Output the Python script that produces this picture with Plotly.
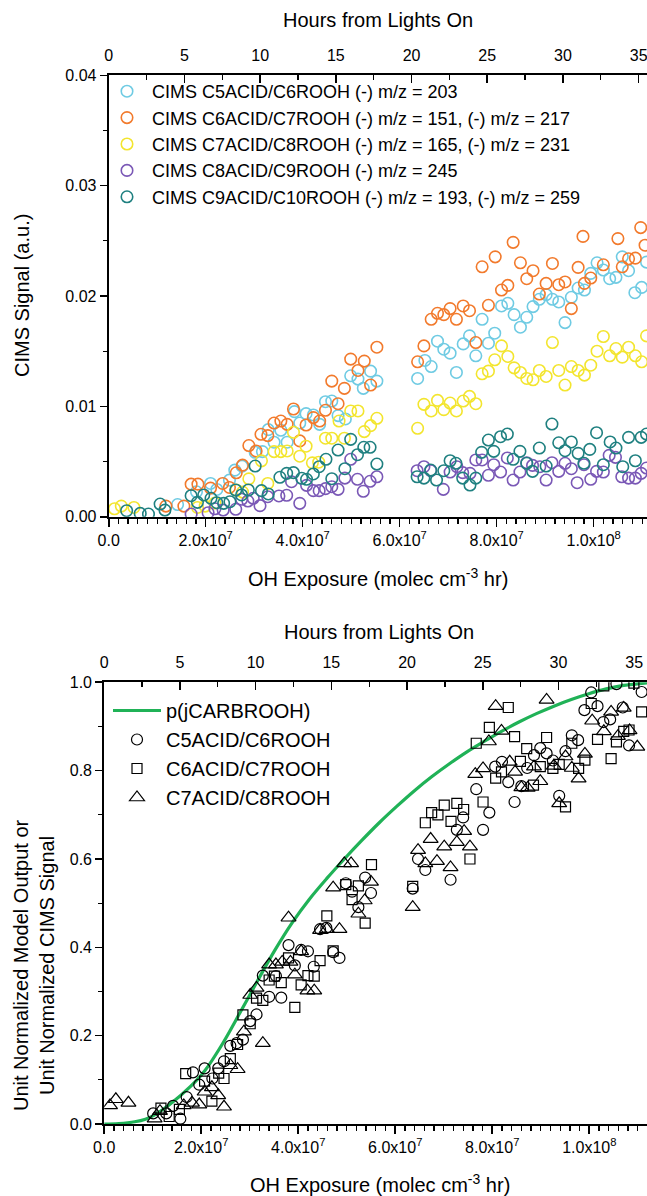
import plotly.graph_objects as go

# ---------------- TOP PANEL DATA (OH exposure in units of 1e7 molec cm^-3 hr) ----------------
c5_oh = [1.42, 1.81, 2.10, 2.23, 2.49, 2.60, 2.75, 3.02, 3.17, 3.29, 3.41, 3.55, 3.68, 3.83, 3.94, 4.07, 4.22, 4.35,
         4.47, 4.60, 4.73, 4.88, 4.99, 5.14, 5.25, 5.40, 5.53,
         6.37, 6.52, 6.65, 6.78, 6.91, 7.04, 7.17, 7.31, 7.44, 7.57, 7.70, 7.83, 7.96, 8.10, 8.23, 8.36, 8.49, 8.62,
         8.75, 8.88, 9.02, 9.15, 9.28, 9.41, 9.54, 9.68, 9.81, 9.94, 10.07, 10.20, 10.33, 10.46, 10.59, 10.72,
         10.85, 10.99, 11.09]
c5_sig = [0.00110, 0.00226, 0.00301, 0.00247, 0.00331, 0.00422, 0.00458, 0.00584, 0.00590, 0.00789, 0.00675,
          0.00783, 0.00675, 0.00952, 0.00849, 0.00934, 0.00922, 0.00837, 0.01042, 0.01048, 0.00916, 0.00886,
          0.01277, 0.01247, 0.01163, 0.01319, 0.01229,
          0.01253, 0.01416, 0.01361, 0.01590, 0.01518, 0.01482, 0.01307, 0.01566, 0.01639, 0.01458, 0.01789,
          0.01572, 0.01663, 0.01910, 0.01934, 0.01831, 0.01717, 0.01807, 0.01904, 0.01970, 0.02012, 0.01970,
          0.01946, 0.01759, 0.01988, 0.02072, 0.02054, 0.02205, 0.02301, 0.02235, 0.02157, 0.02169, 0.02355,
          0.02229, 0.02030, 0.02078, 0.02307]

c6_oh = [1.18, 1.55, 1.70, 1.84, 2.10, 2.35, 2.49, 2.63, 2.76, 2.89, 3.04, 3.14, 3.28, 3.41, 3.55, 3.68, 3.81, 3.94,
         4.07, 4.22, 4.35, 4.47, 4.60, 4.73, 4.86, 4.99, 5.14, 5.27, 5.40, 5.53,
         6.37, 6.50, 6.65, 6.78, 6.91, 7.04, 7.17, 7.31, 7.44, 7.57, 7.70, 7.83, 7.97, 8.10, 8.23, 8.34, 8.49,
         8.62, 8.75, 8.88, 9.02, 9.15, 9.28, 9.41, 9.54, 9.68, 9.78, 9.81, 9.94, 10.20, 10.50, 10.59, 10.72,
         10.86, 10.97, 11.06]
c6_sig = [0.00096, 0.00096, 0.00295, 0.00295, 0.00259, 0.00301, 0.00265, 0.00398, 0.00467, 0.00645, 0.00596,
          0.00747, 0.00735, 0.00849, 0.00867, 0.00837, 0.00976, 0.00687, 0.00831, 0.00898, 0.00867, 0.00964,
          0.01229, 0.01024, 0.01163, 0.01428, 0.01325, 0.01410, 0.01193, 0.01536,
          0.01404, 0.01548, 0.01789, 0.01843, 0.01831, 0.01886, 0.01789, 0.01910, 0.01867, 0.01578, 0.02265,
          0.01916, 0.02355, 0.02054, 0.02096, 0.02486, 0.02301, 0.02157, 0.02229, 0.02018, 0.02114, 0.02295,
          0.02102, 0.02127, 0.01886, 0.02259, 0.02540, 0.02114, 0.02163, 0.02283, 0.02520, 0.02265, 0.02337,
          0.02343, 0.02620, 0.02460]

c7_oh = [0.12, 0.26, 0.52, 1.83, 1.99, 2.19, 2.63, 2.76, 2.89, 3.15, 3.28, 3.41, 3.55, 3.68, 3.81, 3.94, 4.07,
         4.20, 4.33, 4.47, 4.60, 4.75, 4.86, 4.99, 5.14, 5.27, 5.40, 5.53,
         6.37, 6.50, 6.65, 6.78, 6.91, 7.04, 7.17, 7.31, 7.44, 7.57, 7.70, 7.83, 7.96, 8.10, 8.23, 8.36, 8.49,
         8.62, 8.75, 8.88, 9.02, 9.15, 9.28, 9.41, 9.54, 9.68, 9.81, 9.94, 10.07, 10.20, 10.33, 10.46, 10.59,
         10.72, 10.86, 10.99, 11.09]
c7_sig = [0.00072, 0.00096, 0.00084, 0.00084, 0.00096, 0.00124, 0.00241, 0.00223, 0.00343, 0.00506, 0.00301,
          0.00590, 0.00590, 0.00596, 0.00765, 0.00548, 0.00639, 0.00488, 0.00494, 0.00711, 0.00711, 0.00867,
          0.00711, 0.00958, 0.00958, 0.00771, 0.00825, 0.00892,
          0.00801, 0.01018, 0.00958, 0.01054, 0.00970, 0.01030, 0.00958, 0.01048, 0.01090, 0.01024, 0.01295,
          0.01319, 0.01422, 0.01548, 0.01452, 0.01349, 0.01307, 0.01253, 0.01241, 0.01325, 0.01271, 0.01578,
          0.01325, 0.01193, 0.01361, 0.01325, 0.01283, 0.01373, 0.01500, 0.01633, 0.01458, 0.01524, 0.01446,
          0.01536, 0.01458, 0.01404, 0.01639]

c8_oh = [1.70, 2.05, 2.19, 2.36, 2.62, 2.74, 2.87, 2.98, 3.12, 3.28, 3.51, 3.67, 3.77, 3.94, 4.08, 4.22, 4.34,
         4.47, 4.60, 4.73, 4.87, 4.99, 5.13, 5.25, 5.39, 5.53,
         6.36, 6.50, 6.64, 6.90, 7.04, 7.18, 7.30, 7.45, 7.57, 7.70, 7.83, 7.94, 8.08, 8.22, 8.34, 8.48, 8.62,
         8.74, 8.89, 9.02, 9.14, 9.28, 9.41, 9.54, 9.66, 9.80, 9.94, 10.06, 10.20, 10.32, 10.45, 10.58, 10.72,
         10.86, 10.98, 11.09]
c8_sig = [0.00024, 0.00036, 0.00072, 0.00060, 0.00067, 0.00158, 0.00142, 0.00167, 0.00100, 0.00181, 0.00188,
          0.00194, 0.00317, 0.00121, 0.00284, 0.00236, 0.00236, 0.00254, 0.00272, 0.00248, 0.00350, 0.00520,
          0.00339, 0.00230, 0.00321, 0.00362,
          0.00417, 0.00453, 0.00417, 0.00248, 0.00405, 0.00453, 0.00399, 0.00393, 0.00514, 0.00514, 0.00375,
          0.00471, 0.00405, 0.00532, 0.00332, 0.00405, 0.00489, 0.00465, 0.00453, 0.00332, 0.00489, 0.00411,
          0.00484, 0.00435, 0.00308, 0.00471, 0.00339, 0.00411, 0.00405, 0.00556, 0.00538, 0.00362, 0.00350,
          0.00350, 0.00393, 0.00441]

c9_oh = [0.37, 0.65, 0.82, 1.06, 1.16, 1.70, 1.83, 1.96, 2.11, 2.23, 2.37, 2.50, 2.62, 2.74, 2.88, 3.02, 3.15,
         3.29, 3.53, 3.67, 3.81, 3.98, 4.08, 4.22, 4.34, 4.48, 4.60, 4.73, 4.87, 4.99, 5.13, 5.26, 5.39, 5.53,
         6.36, 6.50, 6.64, 6.76, 6.91, 7.04, 7.16, 7.30, 7.45, 7.57, 7.69, 7.83, 7.94, 8.08, 8.22, 8.34, 8.48,
         8.62, 8.74, 8.88, 9.02, 9.14, 9.28, 9.41, 9.54, 9.68, 9.80, 9.92, 10.06, 10.20, 10.34, 10.46, 10.60,
         10.72, 10.86, 10.98, 11.09]
c9_sig = [0.00054, 0.00030, 0.00024, 0.00115, 0.00060, 0.00190, 0.00130, 0.00197, 0.00167, 0.00127, 0.00121,
          0.00136, 0.00242, 0.00197, 0.00242, 0.00459, 0.00236, 0.00206, 0.00357, 0.00393, 0.00399, 0.00348,
          0.00339, 0.00387, 0.00453, 0.00520, 0.00344, 0.00604, 0.00435, 0.00701, 0.00562, 0.00629, 0.00629,
          0.00477,
          0.00362, 0.00350, 0.00423, 0.00332, 0.00417, 0.00507, 0.00484, 0.00350, 0.00287, 0.00350, 0.00583,
          0.00695, 0.00592, 0.00725, 0.00749, 0.00520, 0.00592, 0.00484, 0.00411, 0.00622, 0.00459, 0.00840,
          0.00670, 0.00598, 0.00677, 0.00574, 0.00484, 0.00610, 0.00761, 0.00471, 0.00677, 0.00622, 0.00453,
          0.00719, 0.00507, 0.00719, 0.00749]

# ---------------- BOTTOM PANEL DATA ----------------
model_oh = [0, 0.3, 0.63, 0.85, 1.06, 1.35, 1.78, 2.07, 2.43, 2.79, 3.15, 3.51, 3.87, 4.23, 4.59, 4.95, 5.31,
            5.67, 6.03, 6.39, 6.75, 7.11, 7.47, 7.83, 8.19, 8.55, 8.91, 9.27, 9.63, 9.99, 10.35, 10.71, 11.2]
model_val = [0, 0.001, 0.005, 0.011, 0.022, 0.044, 0.085, 0.12, 0.18, 0.25, 0.322, 0.392, 0.455, 0.509, 0.556,
             0.600, 0.642, 0.682, 0.719, 0.754, 0.786, 0.815, 0.842, 0.866, 0.889, 0.910, 0.929, 0.946, 0.961,
             0.974, 0.985, 0.993, 0.999]

n5_oh = [1.01, 1.28, 1.42, 1.57, 1.70, 1.83, 1.96, 2.07, 2.23, 2.35, 2.47, 2.60, 2.73, 2.86, 3.01, 3.14, 3.27,
         3.40, 3.54, 3.65, 3.80, 3.93, 4.06, 4.20, 4.32, 4.45, 4.58, 4.72, 4.85, 4.98, 5.11, 5.24, 5.38, 5.50,
         6.36, 6.47, 6.62, 7.14, 7.27, 7.40, 7.67, 7.81, 7.94, 8.06, 8.20, 8.33, 8.46, 8.60, 8.72, 8.86, 8.99,
         9.12, 9.25, 9.38, 9.51, 9.64, 9.77, 9.90, 10.04, 10.17, 10.29, 10.43, 10.56, 10.69, 10.82, 11.08]
n5_val = [0.024, 0.024, 0.041, 0.012, 0.061, 0.117, 0.089, 0.126, 0.103, 0.126, 0.142, 0.177, 0.183, 0.191,
          0.233, 0.248, 0.336, 0.288, 0.335, 0.286, 0.405, 0.359, 0.394, 0.391, 0.356, 0.441, 0.444, 0.389,
          0.376, 0.545, 0.526, 0.491, 0.558, 0.523, 0.533, 0.600, 0.575, 0.553, 0.666, 0.694, 0.758, 0.666,
          0.705, 0.809, 0.820, 0.774, 0.729, 0.765, 0.806, 0.835, 0.851, 0.839, 0.823, 0.743, 0.844, 0.880,
          0.869, 0.937, 0.977, 0.946, 0.910, 0.916, 0.996, 0.943, 0.857, 0.978]

n6_oh = [1.17, 1.34, 1.55, 1.68, 2.07, 2.22, 2.36, 2.47, 2.60, 2.75, 2.86, 3.01, 3.14, 3.27, 3.40, 3.51, 3.65,
         3.80, 3.93, 4.06, 4.20, 4.33, 4.45, 4.59, 4.72, 4.98, 5.11, 5.24, 5.38, 5.51, 6.36, 6.62, 6.75, 6.88,
         7.01, 7.15, 7.27, 7.41, 7.54, 7.67, 7.81, 7.94, 8.07, 8.19, 8.33, 8.46, 8.58, 8.71, 8.85, 8.99, 9.12,
         9.25, 9.38, 9.51, 9.64, 9.78, 9.91, 10.04, 10.17, 10.30, 10.45, 10.56, 10.71, 10.82, 10.92, 11.08]
n6_val = [0.036, 0.017, 0.033, 0.114, 0.097, 0.052, 0.115, 0.103, 0.148, 0.180, 0.247, 0.227, 0.285, 0.280,
          0.326, 0.335, 0.320, 0.376, 0.264, 0.315, 0.336, 0.335, 0.370, 0.471, 0.392, 0.542, 0.508, 0.539,
          0.455, 0.587, 0.538, 0.682, 0.705, 0.700, 0.722, 0.685, 0.726, 0.712, 0.600, 0.862, 0.729, 0.898,
          0.783, 0.797, 0.943, 0.877, 0.821, 0.850, 0.767, 0.809, 0.875, 0.805, 0.814, 0.718, 0.862, 0.805,
          0.824, 0.952, 0.871, 0.992, 0.827, 0.865, 0.889, 0.892, 0.998, 0.933]

n7_oh = [0.12, 0.24, 0.50, 1.04, 1.15, 1.64, 1.81, 1.96, 2.07, 2.22, 2.35, 2.47, 2.60, 2.75, 2.88, 3.01, 3.14,
         3.27, 3.40, 3.54, 3.67, 3.80, 3.84, 3.93, 4.06, 4.19, 4.33, 4.45, 4.59, 4.72, 4.85, 4.95, 5.09, 5.24,
         5.37, 5.50, 6.36, 6.47, 6.62, 6.73, 6.86, 7.01, 7.14, 7.27, 7.42, 7.54, 7.65, 7.81, 7.93, 8.07, 8.19,
         8.36, 8.47, 8.60, 8.73, 8.86, 8.99, 9.12, 9.27, 9.38, 9.51, 9.64, 9.78, 9.91, 10.06, 10.30, 10.45,
         10.59, 10.71, 10.83, 10.99]
n7_val = [0.042, 0.056, 0.048, 0.012, 0.029, 0.042, 0.048, 0.044, 0.073, 0.083, 0.065, 0.039, 0.133, 0.124,
          0.209, 0.292, 0.308, 0.183, 0.361, 0.361, 0.367, 0.467, 0.367, 0.338, 0.391, 0.302, 0.302, 0.439,
          0.441, 0.535, 0.441, 0.590, 0.590, 0.476, 0.506, 0.548, 0.491, 0.620, 0.590, 0.645, 0.595, 0.628,
          0.581, 0.638, 0.663, 0.628, 0.792, 0.805, 0.866, 0.946, 0.890, 0.820, 0.797, 0.762, 0.761, 0.809,
          0.776, 0.960, 0.811, 0.726, 0.832, 0.806, 0.782, 0.838, 0.913, 0.889, 0.933, 0.878, 0.942, 0.891,
          0.854]

oh_tickvals = [0, 2, 4, 6, 8, 10]
oh_ticktext = ["0.0", "2.0x10<sup>7</sup>", "4.0x10<sup>7</sup>", "6.0x10<sup>7</sup>",
               "8.0x10<sup>7</sup>", "1.0x10<sup>8</sup>"]
hours_ticks = [0, 5, 10, 15, 20, 25, 30, 35]

FONT = "Arial, Liberation Sans, sans-serif"
top_series = [
    ("CIMS C5ACID/C6ROOH (-) m/z = 203", c5_oh, c5_sig, "#6fcbe3"),
    ("CIMS C6ACID/C7ROOH (-) m/z = 151, (-) m/z = 217", c6_oh, c6_sig, "#f27a2c"),
    ("CIMS C7ACID/C8ROOH (-) m/z = 165, (-) m/z = 231", c7_oh, c7_sig, "#f3e52e"),
    ("CIMS C8ACID/C9ROOH (-) m/z = 245", c8_oh, c8_sig, "#7a58b6"),
    ("CIMS C9ACID/C10ROOH (-) m/z = 193, (-) m/z = 259", c9_oh, c9_sig, "#1f8080"),
]

fig = go.Figure()
for name, xs, ys, col in top_series:
    fig.add_trace(go.Scatter(x=xs, y=ys, mode="markers", name=name, xaxis="x", yaxis="y",
                             legend="legend",
                             marker=dict(symbol="circle-open", size=11.5, color=col,
                                         line=dict(width=1.6, color=col))))
fig.add_trace(go.Scatter(x=hours_ticks, y=[None] * len(hours_ticks), xaxis="x2", yaxis="y",
                         showlegend=False, hoverinfo="skip", mode="markers"))

fig.add_trace(go.Scatter(x=model_oh, y=model_val, mode="lines", name="p(jCARBROOH)", xaxis="x3", yaxis="y2",
                         legend="legend2", line=dict(color="#20b257", width=3.2, shape="spline")))
bottom_series = [
    ("C5ACID/C6ROOH", n5_oh, n5_val, "circle-open", 11),
    ("C6ACID/C7ROOH", n6_oh, n6_val, "square-open", 10),
    ("C7ACID/C8ROOH", n7_oh, n7_val, "triangle-up-open", 13),
]
for name, xs, ys, sym, sz in bottom_series:
    fig.add_trace(go.Scatter(x=xs, y=ys, mode="markers", name=name, xaxis="x3", yaxis="y2", legend="legend2",
                             marker=dict(symbol=sym, size=sz, color="black", line=dict(width=1.2, color="black"))))
fig.add_trace(go.Scatter(x=hours_ticks, y=[None] * len(hours_ticks), xaxis="x4", yaxis="y2",
                         showlegend=False, hoverinfo="skip", mode="markers"))

W, H = 647, 1196
def px(v):
    return v / W
def py(v):
    return 1 - v / H

axis_common = dict(showline=True, linewidth=2, linecolor="black", showgrid=False, zeroline=False,
                   tickfont=dict(family=FONT, size=16, color="black"), tickcolor="black", tickwidth=1.6,
                   automargin=False, ticklabeloverflow="allow")

top_l, bot_l = 108.7, 104.2
fig.update_layout(
    width=W, height=H, margin=dict(l=0, r=0, t=0, b=0, autoexpand=False),
    paper_bgcolor="white", plot_bgcolor="white",
    font=dict(family=FONT, color="black"),
    xaxis=dict(domain=[px(top_l), 1], range=[0, 11.1], anchor="y", tickvals=oh_tickvals, ticktext=oh_ticktext,
               ticks="outside", ticklen=8,
               minor=dict(dtick=0.2, tick0=0, ticks="outside", ticklen=5, tickwidth=1.3, tickcolor="black"),
               **axis_common),
    xaxis2=dict(overlaying="x", side="top", anchor="y", range=[0, 35.55], tickvals=hours_ticks,
                ticks="inside", ticklen=8, ticklabelstandoff=6,
                minor=dict(dtick=2.5, tick0=0, ticks="inside", ticklen=5, tickwidth=1.3, tickcolor="black"),
                **axis_common),
    yaxis=dict(domain=[py(516.7), py(75.3)], range=[0, 0.04], anchor="x", dtick=0.01, tickformat=".2f",
               ticks="outside", ticklen=7,
               minor=dict(dtick=0.005, tick0=0, ticks="outside", ticklen=4, tickwidth=1.3, tickcolor="black"),
               **axis_common),
    xaxis3=dict(domain=[px(bot_l), 1], range=[0, 11.19], anchor="y2", tickvals=oh_tickvals,
                ticktext=oh_ticktext, ticks="outside", ticklen=8,
                minor=dict(dtick=0.2, tick0=0, ticks="outside", ticklen=5, tickwidth=1.3, tickcolor="black"),
                **axis_common),
    xaxis4=dict(overlaying="x3", side="top", anchor="y2", range=[0, 35.85], tickvals=hours_ticks,
                ticks="inside", ticklen=8, ticklabelstandoff=6,
                minor=dict(dtick=2.5, tick0=0, ticks="inside", ticklen=5, tickwidth=1.3, tickcolor="black"),
                **axis_common),
    yaxis2=dict(domain=[py(1124), py(682.3)], range=[0, 1], anchor="x3", dtick=0.2, tickformat=".1f",
                ticks="outside", ticklen=7,
                minor=dict(dtick=0.1, tick0=0, ticks="outside", ticklen=4, tickwidth=1.3, tickcolor="black"),
                **axis_common),
    legend=dict(x=px(102), y=py(73), xanchor="left", yanchor="top", bgcolor="rgba(0,0,0,0)",
                font=dict(family=FONT, size=18, color="black"), tracegroupgap=0, itemwidth=40),
    legend2=dict(x=px(108), y=py(691), xanchor="left", yanchor="top", bgcolor="rgba(0,0,0,0)",
                 font=dict(family=FONT, size=20, color="black"), tracegroupgap=0, itemwidth=48),
    showlegend=True,
)

title_font = dict(family=FONT, size=20, color="black")
annos = [
    dict(text="Hours from Lights On", x=px(378), y=py(20)),
    dict(text="OH Exposure (molec cm<sup>-3</sup> hr)", x=px(378), y=py(577)),
    dict(text="CIMS Signal (a.u.)", x=px(22), y=py(296), textangle=-90),
    dict(text="Hours from Lights On", x=px(379), y=py(632)),
    dict(text="OH Exposure (molec cm<sup>-3</sup> hr)", x=px(380), y=py(1183)),
    dict(text="Unit Normalized Model Output or<br>Unit Normalized CIMS Signal", x=px(34), y=py(965),
         textangle=-90),
]
for a in annos:
    fig.add_annotation(xref="paper", yref="paper", showarrow=False, xanchor="center", yanchor="middle",
                       font=title_font, **a)

fig.write_html("out.html", config={"displayModeBar": False, "staticPlot": True},
               post_script="document.body.style.margin='0';document.body.style.padding='0';"
                           "document.documentElement.style.margin='0';")
